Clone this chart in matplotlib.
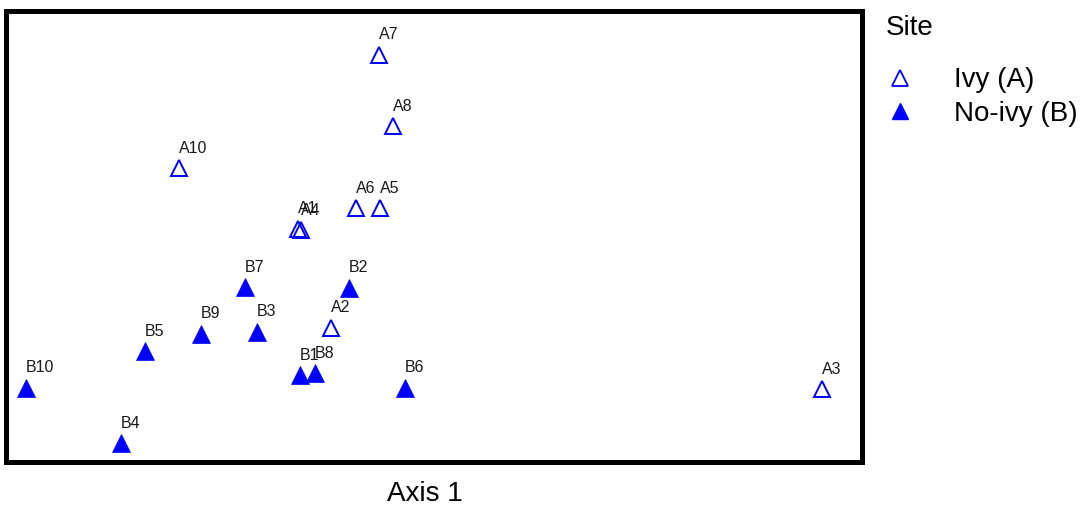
import matplotlib
matplotlib.use('Agg')
import matplotlib.pyplot as plt
from matplotlib.lines import Line2D

plt.rcParams['font.family'] = ['Liberation Sans', 'DejaVu Sans']

# ordination scores (Axis 1, Axis 2)
ivy_labels = ['A1', 'A2', 'A3', 'A4', 'A5', 'A6', 'A7', 'A8', 'A10']
ivy_x = [-0.338, -0.255, 0.973, -0.330, -0.133, -0.193, -0.135, -0.100, -0.635]
ivy_y = [0.078, -0.170, -0.323, 0.075, 0.130, 0.130, 0.513, 0.335, 0.230]

noivy_labels = ['B1', 'B2', 'B3', 'B4', 'B5', 'B6', 'B7', 'B8', 'B9', 'B10']
noivy_x = [-0.333, -0.210, -0.440, -0.780, -0.720, -0.070, -0.470, -0.295, -0.580, -1.018]
noivy_y = [-0.288, -0.070, -0.180, -0.458, -0.228, -0.320, -0.068, -0.283, -0.185, -0.320]

blue = '#0000FF'

fig = plt.figure(figsize=(10.86, 5.19), dpi=100)
ax = fig.add_axes([5.5 / 1086, 1 - 461.5 / 519, 856.5 / 1086, 451 / 519])

ax.plot(ivy_x, ivy_y, linestyle='none', marker='^', markersize=11,
        markerfacecolor='none', markeredgecolor=blue, markeredgewidth=1.4)
ax.plot(noivy_x, noivy_y, linestyle='none', marker='^', markersize=12.5,
        markerfacecolor=blue, markeredgecolor=blue, markeredgewidth=0.5)

for lab, x, y in zip(ivy_labels + noivy_labels, ivy_x + noivy_x, ivy_y + noivy_y):
    ax.annotate(lab, (x, y), xytext=(0, 20), textcoords='offset pixels',
                ha='left', va='center', fontsize=11.5, color='#1a1a1a')

ax.set_xlim(-1.069, 1.0725)
ax.set_ylim(-0.504, 0.624)
ax.set_xticks([])
ax.set_yticks([])
for sp in ax.spines.values():
    sp.set_linewidth(3.6)
ax.set_xlabel('Axis 1', fontsize=20, va='center')
ax.xaxis.set_label_coords(0.49, -0.072)

handles = [
    Line2D([], [], linestyle='none', marker='^', markersize=11,
           markerfacecolor='none', markeredgecolor=blue, markeredgewidth=1.3),
    Line2D([], [], linestyle='none', marker='^', markersize=12,
           markerfacecolor=blue, markeredgecolor=blue),
]
leg = fig.legend(handles, ['Ivy (A)', 'No-ivy (B)'], title='Site',
                 loc='upper left', bbox_to_anchor=(886 / 1086, 1 - 15 / 519),
                 frameon=False, fontsize=20, title_fontsize=20,
                 alignment='left', handlelength=1.0, handletextpad=1.45,
                 labelspacing=0.26, borderaxespad=0, borderpad=0)
leg._legend_box.sep = 19

fig.savefig('out.png', dpi=100)
plt.close(fig)
